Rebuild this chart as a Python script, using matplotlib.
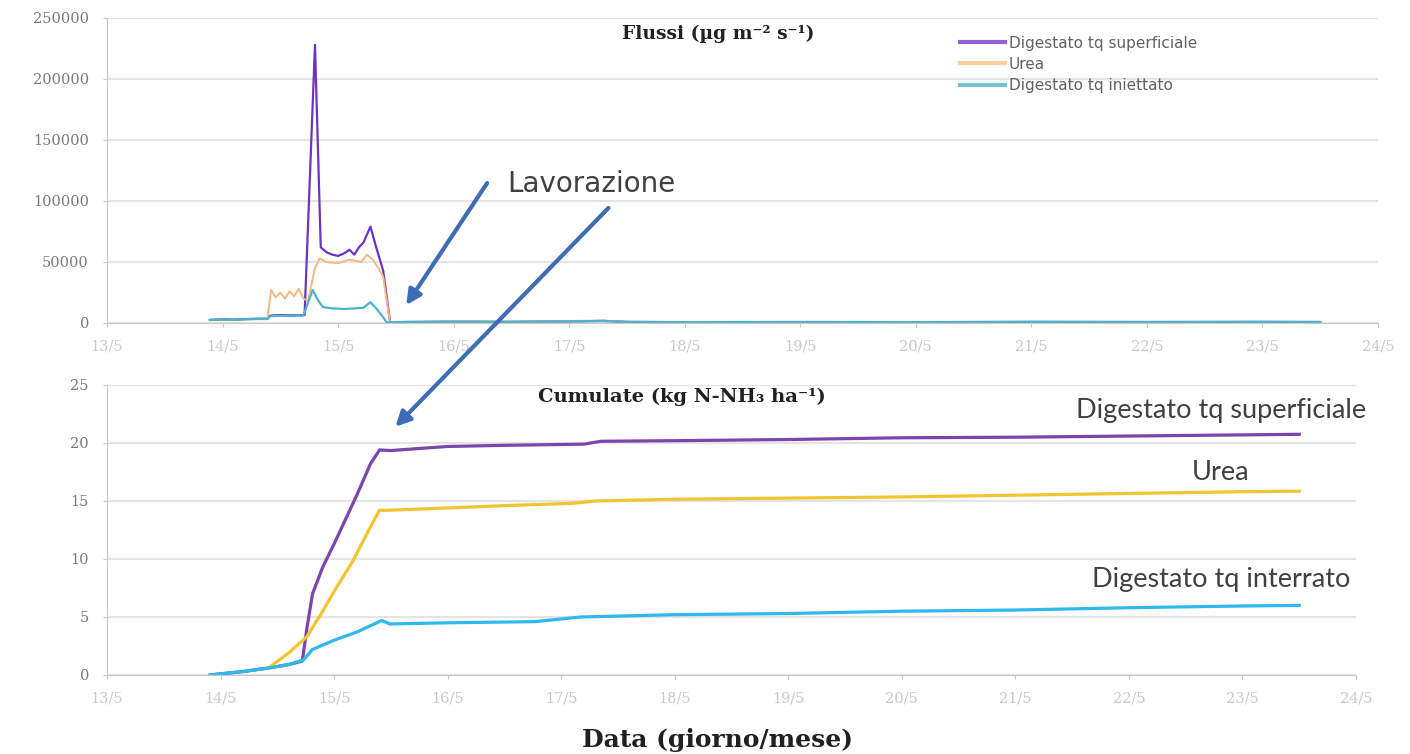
import matplotlib
matplotlib.use("Agg")
import matplotlib.pyplot as plt
from matplotlib.ticker import MultipleLocator, FixedLocator

# Flussi (ug m-2 s-1): giorni frazionari di maggio
t_sup = [13.89, 14.0, 14.1, 14.2, 14.3, 14.39, 14.41, 14.5, 14.6, 14.71, 14.80, 14.85, 14.90, 14.95,
         15.0, 15.05, 15.10, 15.14, 15.18, 15.22, 15.28, 15.33, 15.39, 15.45, 15.6, 16.0, 16.5, 17.0,
         17.3, 17.5, 18.0, 19.0, 20.0, 21.0, 22.0, 23.0, 23.5]
f_sup = [2500, 3000, 2800, 3200, 3500, 3500, 6000, 6500, 6200, 6500, 228000, 62000, 58000, 56000,
         55000, 57000, 60000, 56000, 62000, 66000, 79000, 62000, 43000, 600, 800, 1000, 900, 1300,
         1700, 900, 700, 800, 700, 900, 800, 900, 800]

t_urea = [14.39, 14.42, 14.46, 14.50, 14.54, 14.58, 14.62, 14.66, 14.70, 14.74, 14.80, 14.84, 14.90,
          15.0, 15.1, 15.2, 15.25, 15.3, 15.35, 15.39, 15.45, 15.6, 16.0, 16.5, 17.0, 17.3, 17.5,
          18.0, 19.0, 20.0, 21.0, 22.0, 23.0, 23.5]
f_urea = [5000, 27000, 21000, 25000, 20000, 26000, 22000, 28000, 20000, 18000, 45000, 53000, 50000,
          49000, 52000, 50000, 56000, 52000, 45000, 38000, 600, 800, 1100, 900, 1400, 1800, 900,
          700, 800, 700, 900, 800, 900, 800]

t_inj = [13.89, 14.0, 14.1, 14.2, 14.3, 14.39, 14.41, 14.5, 14.6, 14.70, 14.78, 14.83, 14.87, 14.95,
         15.05, 15.15, 15.22, 15.28, 15.33, 15.38, 15.42, 15.5, 16.0, 16.5, 17.0, 17.3, 17.5, 18.0,
         19.0, 20.0, 21.0, 22.0, 23.0, 23.5]
f_inj = [2500, 2800, 2600, 3000, 3200, 3300, 5500, 6000, 5800, 6200, 27000, 18000, 13000, 12000,
         11500, 12000, 12500, 17000, 12000, 6000, 500, 800, 1200, 1000, 1500, 1800, 900, 700,
         800, 700, 900, 800, 900, 800]

# Cumulate (kg N-NH3 ha-1)
tc_sup = [13.91, 14.0, 14.2, 14.42, 14.6, 14.72, 14.76, 14.81, 14.90, 15.0, 15.1, 15.2, 15.32, 15.40,
          15.5, 16.0, 16.5, 17.2, 17.35, 18.0, 19.0, 20.0, 21.0, 22.0, 23.0, 23.5]
c_sup = [0, 0.1, 0.3, 0.6, 0.9, 1.2, 4.0, 7.0, 9.3, 11.3, 13.4, 15.5, 18.2, 19.4,
         19.35, 19.7, 19.8, 19.9, 20.15, 20.2, 20.3, 20.45, 20.5, 20.6, 20.7, 20.75]

tc_urea = [14.42, 14.6, 14.76, 14.9, 15.0, 15.17, 15.3, 15.40, 15.47, 16.0, 16.5, 17.1, 17.3,
           18.0, 19.0, 20.0, 21.0, 22.0, 23.0, 23.5]
c_urea = [0.6, 1.9, 3.3, 5.5, 7.2, 9.9, 12.4, 14.2, 14.2, 14.4, 14.6, 14.8, 15.0,
          15.15, 15.25, 15.35, 15.5, 15.65, 15.8, 15.85]

tc_int = [13.91, 14.0, 14.2, 14.42, 14.6, 14.73, 14.81, 15.0, 15.2, 15.42, 15.49, 16.0, 16.77, 17.17,
          18.0, 19.0, 20.0, 21.0, 22.0, 23.0, 23.5]
c_int = [0, 0.1, 0.3, 0.6, 0.9, 1.3, 2.2, 3.0, 3.7, 4.7, 4.4, 4.5, 4.6, 5.0,
         5.2, 5.3, 5.5, 5.6, 5.8, 5.95, 6.0]

giorni = list(range(13, 25))
etichette = [f"{g}/5" for g in giorni]
serie = ["Digestato tq superficiale", "Urea", "Digestato tq iniettato"]

W, H = 1410, 754
fig = plt.figure(figsize=(W / 100, H / 100), dpi=100)
ax1 = fig.add_axes([107 / W, 1 - 323 / H, (1378 - 107) / W, (323 - 18) / H])
ax2 = fig.add_axes([107 / W, 1 - 675 / H, (1356 - 107) / W, (675 - 385) / H])
ax2.patch.set_visible(False)

tick_font = dict(family="DejaVu Serif", size=10.5, color="#7A7A7A")

for ax in (ax1, ax2):
    ax.set_xlim(13, 24)
    ax.xaxis.set_major_locator(FixedLocator(giorni))
    ax.set_xticklabels(etichette, **tick_font)
    for s in ("top", "right"):
        ax.spines[s].set_visible(False)
    for s in ("left", "bottom"):
        ax.spines[s].set_color("#C8C8C8")
    ax.tick_params(axis="both", colors="#C8C8C8", length=3)
    ax.tick_params(axis="x", pad=9)
    ax.tick_params(axis="y", pad=10)
    ax.grid(axis="y", color="#E4E4E4", lw=1.6)
    ax.set_axisbelow(True)

# pannello superiore: flussi
ax1.plot(t_sup, f_sup, color="#6A35C0", lw=1.6, label=serie[0])
ax1.plot(t_urea, f_urea, color="#F6B880", lw=1.4, label=serie[1])
ax1.plot(t_inj, f_inj, color="#4BB5C8", lw=1.6, label=serie[2])
ax1.set_ylim(0, 250000)
ax1.yaxis.set_major_locator(MultipleLocator(50000))
ax1.set_yticks(ax1.get_yticks())
ax1.set_yticklabels([f"{int(v)}" for v in ax1.get_yticks()], **tick_font)
ax1.set_ylim(0, 250000)
ax1.text(18.29, 237000, "Flussi (µg m⁻² s⁻¹)", family="DejaVu Serif", weight="bold",
         size=13.5, ha="center", va="center", color="#202020")

leg = ax1.legend(loc="upper left", bbox_to_anchor=(952 / W, 1 - 28 / H),
                 bbox_transform=fig.transFigure, frameon=False, fontsize=11,
                 handlelength=3.0, handletextpad=0.2, labelspacing=0.4, borderpad=0)
for txt in leg.get_texts():
    txt.set_color("#606060")
for ln, c in zip(leg.get_lines(), ["#9460D8", "#F8D09A", "#78C3CC"]):
    ln.set_color(c)
    ln.set_linewidth(3)

ax1.text(16.46, 114000, "Lavorazione", family="DejaVu Sans", size=20, color="#404040",
         ha="left", va="center")

# pannello inferiore: cumulate
ax2.plot(tc_sup, c_sup, color="#7B45AE", lw=2.3)
ax2.plot(tc_urea, c_urea, color="#F2C530", lw=2.3)
ax2.plot(tc_int, c_int, color="#2EB8EE", lw=2.3)
ax2.set_ylim(0, 25)
ax2.yaxis.set_major_locator(MultipleLocator(5))
ax2.set_yticks(ax2.get_yticks())
ax2.set_yticklabels([f"{int(v)}" for v in ax2.get_yticks()], **tick_font)
ax2.set_ylim(0, 25)
ax2.text(18.06, 24.0, "Cumulate (kg N-NH₃ ha⁻¹)", family="DejaVu Serif", weight="bold",
         size=14, ha="center", va="center", color="#202020")

lab_font = dict(family="Lato", size=19.5, color="#404040", ha="center", va="center")
ax2.text(22.81, 22.8, "Digestato tq superficiale", **lab_font)
ax2.text(22.81, 17.5, "Urea", **lab_font)
ax2.text(22.81, 8.2, "Digestato tq interrato", **lab_font)

# frecce "Lavorazione"
freccia = dict(arrowstyle="-|>", color="#3E6DB5", lw=3, mutation_scale=22, shrinkA=0, shrinkB=0)
ax1.annotate("", xy=(15.59, 14700), xytext=(16.29, 114700), arrowprops=freccia)
ax2.annotate("", xy=(15.54, 21.4), xycoords=ax2.transData, xytext=(17.34, 94300),
             textcoords=ax1.transData, arrowprops=freccia, annotation_clip=False)

fig.text(717 / W, 1 - 740 / H, "Data (giorno/mese)", family="DejaVu Serif", weight="bold",
         size=18, ha="center", va="center", color="#202020")

fig.savefig("out.png", dpi=100)
